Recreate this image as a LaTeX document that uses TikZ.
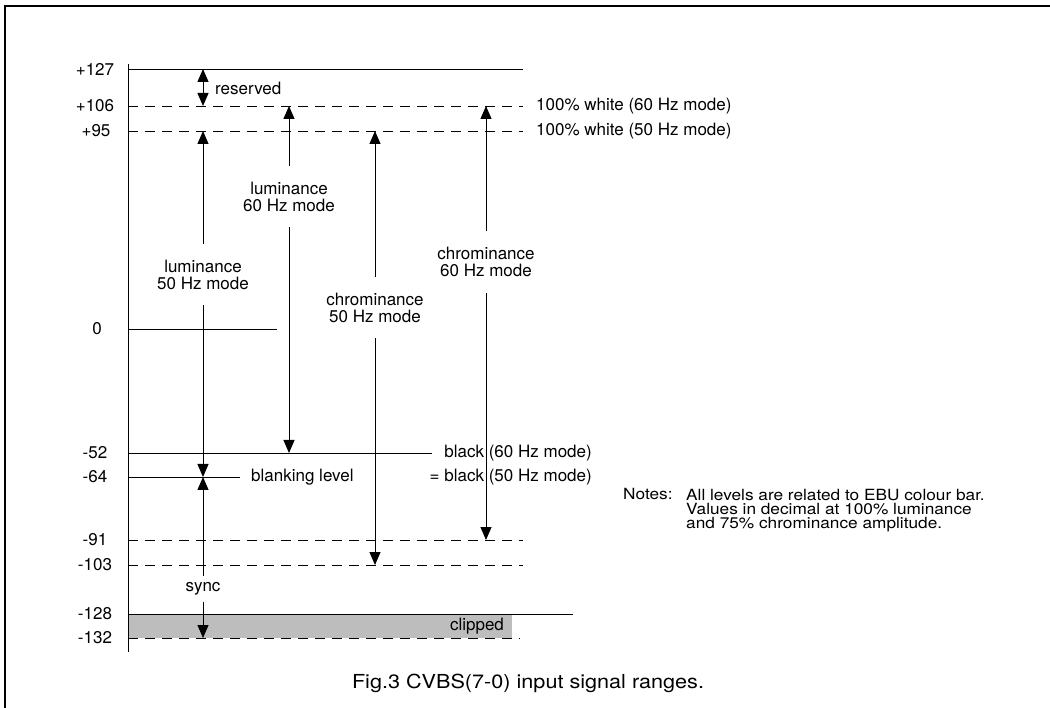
\documentclass[tikz,border=0pt]{standalone}
\usepackage{fontspec}
\setmainfont{TeX Gyre Heros}
\newfontfamily\widefont{TeX Gyre Heros}[FakeStretch=1.12]
\usetikzlibrary{arrows.meta}
\begin{document}
\begin{tikzpicture}[x=1pt,y=-1pt,
  >={Triangle[width=11pt,length=13pt]},
  lbl/.style={font=\fontsize{17}{17}\selectfont, inner sep=0pt},
  mlabel/.style={lbl, align=center, inner xsep=2pt, inner ysep=15.5pt},
  arr/.style={line width=1pt, ->},
  dline/.style={dash pattern=on 10pt off 7pt, line width=0.9pt},
  sline/.style={line width=0.9pt},
  notefont/.style={font=\widefont\fontsize{15.4}{14.2}\selectfont, inner sep=0pt}]
\useasboundingbox (0,0) rectangle (1050,708);
% frame
\draw[line width=1.2pt] (5,708) -- (5,6) -- (1050,6);
% clipped area
\fill[black!26] (128,614) rectangle (512,638);
% axis
\draw[line width=1pt] (128,64) -- (128,652);
% level lines
\draw[sline] (128,69) -- (523,69);
\draw[dline] (128,106) -- (523,106);
\draw[dline] (128,131) -- (523,131);
\draw[sline] (128,329) -- (277,329);
\draw[sline] (128,453) -- (432,453);
\draw[sline] (128,477) -- (240,477);
\draw[dline] (128,540) -- (523,540);
\draw[dline] (128,565) -- (523,565);
\draw[sline] (128,614) -- (573,614);
\draw[dline] (128,638) -- (520,638);
% level labels
\node[lbl] (l127) at (95,69) {+127};
\node[lbl] (l106) at (95,106) {+106};
\node[lbl] (l95) at (96,131) {+95};
\node[lbl] (l0) at (97,329) {0};
\node[lbl] (l52) at (95,453) {-52};
\node[lbl] (l64) at (95,477) {-64};
\node[lbl] (l91) at (95,540) {-91};
\node[lbl] (l103) at (95,565) {-103};
\node[lbl] (l128) at (95,614) {-128};
\node[lbl] (l132) at (95,638) {-132};
% tips
\coordinate (resTop) at (203,69);
\coordinate (resBot) at (203,106);
\coordinate (lum50top) at (203,131);
\coordinate (blank) at (203,477);
\coordinate (syncBot) at (203,638);
\coordinate (lum60top) at (289,106);
\coordinate (lum60bot) at (289,453);
\coordinate (chr50top) at (375,131);
\coordinate (chr50bot) at (375,565);
\coordinate (chr60top) at (486,106);
\coordinate (chr60bot) at (486,540);
% reserved
\draw[line width=1pt, <->] (resTop) -- (resBot);
\node[lbl, anchor=west] (res) at (215,88) {reserved};
% luminance 50
\node[mlabel] (lum50) at (203,274.5) {luminance\\50 Hz mode};
\draw[arr] (lum50.north) -- (lum50top);
\draw[arr] (lum50.south) -- (blank);
% sync
\node[lbl, inner ysep=6pt] (sync) at (203,589) {sync};
\draw[arr] (sync.north) -- (blank);
\draw[arr] (sync.south) -- (syncBot);
% luminance 60
\node[mlabel] (lum60) at (289,196.5) {luminance\\60 Hz mode};
\draw[arr] (lum60.north) -- (lum60top);
\draw[arr] (lum60.south) -- (lum60bot);
% chrominance 50
\node[mlabel] (chr50) at (375,307.5) {chrominance\\50 Hz mode};
\draw[arr] (chr50.north) -- (chr50top);
\draw[arr] (chr50.south) -- (chr50bot);
% chrominance 60
\node[mlabel] (chr60) at (486,262) {chrominance\\60 Hz mode};
\draw[arr] (chr60.north) -- (chr60top);
\draw[arr] (chr60.south) -- (chr60bot);
% right labels
\node[lbl, anchor=west] (w60) at (536,106) {100\% white (60 Hz mode)};
\node[lbl, anchor=west] (w50) at (536,131) {100\% white (50 Hz mode)};
\node[lbl, anchor=east] (b60) at (592,453) {black (60 Hz mode)};
\node[lbl, anchor=east] (b50) at (592,477) {= black (50 Hz mode)};
\node[lbl, anchor=west] (blk) at (251,477) {blanking level};
\node[lbl] (clip) at (477,626) {clipped};
% notes
\node[notefont, anchor=base west] (notes) at (623,500) {Notes:};
\node[notefont, anchor=north west, align=left] (notetext) at (686,489) {All levels are related to EBU colour bar.\\Values in decimal at 100\% luminance\\and 75\% chrominance amplitude.};
% caption
\node[font=\widefont\fontsize{19.3}{20}\selectfont, inner sep=0pt] (cap) at (528,683) {Fig.3 CVBS(7-0) input signal ranges.};
\end{tikzpicture}
\end{document}
